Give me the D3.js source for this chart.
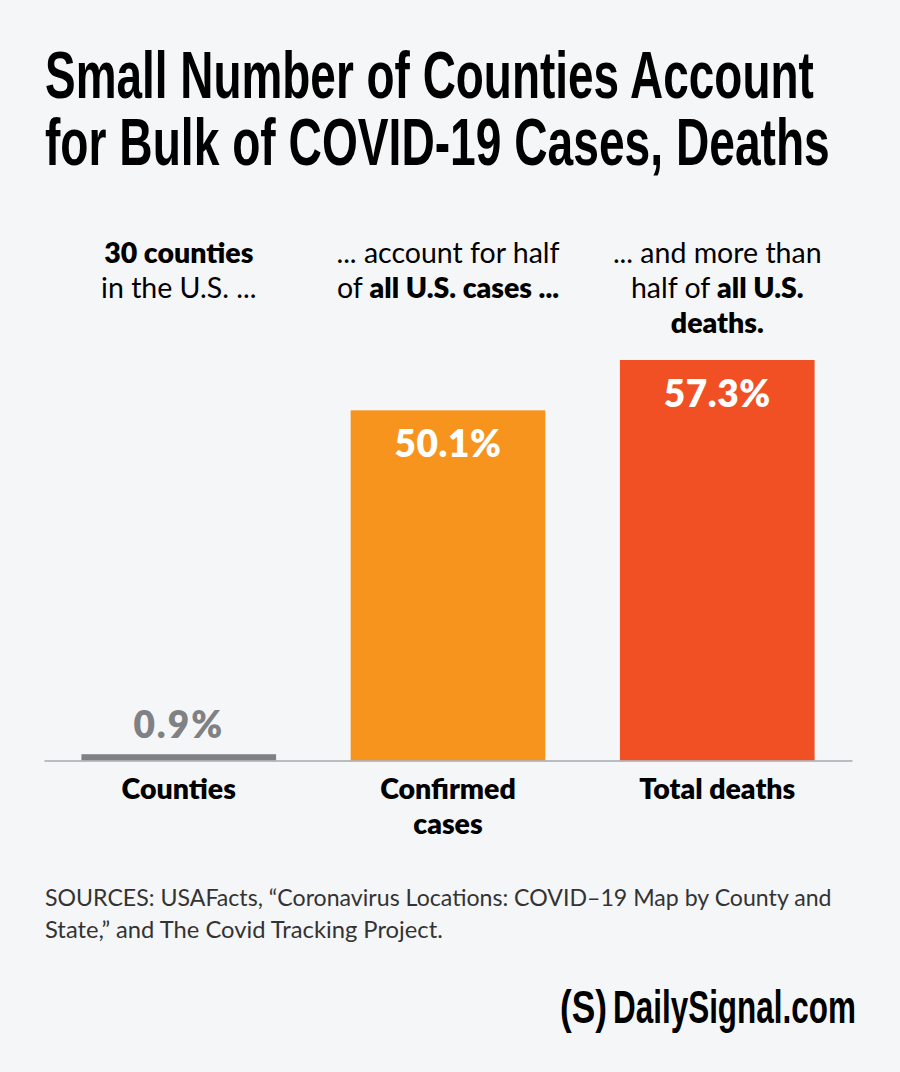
<!DOCTYPE html>
<html lang="en">
<head>
<meta charset="UTF-8">
<title>Small Number of Counties</title>
<script src="https://cdnjs.cloudflare.com/ajax/libs/d3/7.8.5/d3.min.js"></script>
<style>
    html, body { margin: 0; padding: 0; background: #f5f6f8; }
    svg { display: block; }
    text { font-family: Lato, sans-serif; fill: #000; }
    .narrow { font-family: 'Liberation Sans Narrow', 'Liberation Sans', sans-serif; font-weight: 700; }
</style>
</head>
<body>
<div id="chart"></div>
<script>
const titleLines = ["Small Number of Counties Account", "for Bulk of COVID-19 Cases, Deaths"];
const titleWidths = [769, 785];
const categories = ["Counties", "Confirmed cases", "Total deaths"];
const values = [0.9, 50.1, 57.3];
const valueLabels = ["0.9%", "50.1%", "57.3%"];
const colors = ["#808184", "#f7941e", "#f15025"];
const categoryLines = [["Counties"], ["Confirmed", "cases"], ["Total deaths"]];
// each line is a list of [text, bold] runs
const introLines = [
    [[["30 counties", true]], [["in the U.S. ...", false]]],
    [[["... account for half", false]], [["of ", false], ["all U.S. cases ...", true]]],
    [[["... and more than", false]], [["half of ", false], ["all U.S.", true]], [["deaths.", true]]]
];
const sourceLines = [
    "SOURCES: USAFacts, \u201cCoronavirus Locations: COVID\u201319 Map by County and",
    "State,\u201d and The Covid Tracking Project."
];
const sourceWidths = [787, 398];

const width = 900, height = 1072;
const svg = d3.select("#chart").append("svg").attr("width", width).attr("height", height);

// squeeze a text to a given width, keeping its left edge
function fitWidth(sel, w, left, base) {
    const len = sel.node().getComputedTextLength();
    sel.attr("transform", `translate(${left},${base}) scale(${w / len},1)`);
}

// title
titleLines.forEach((line, i) => {
    const t = svg.append("text")
        .attr("class", "narrow")
        .attr("font-size", 66)
        .text(line);
    fitWidth(t, titleWidths[i], 45, 98 + i * 67);
});

const x = d3.scaleBand().domain(categories).range([44, 852]).paddingInner(0.277).paddingOuter(0.139);
const y = d3.scaleLinear().domain([0, 57.3]).range([760.5, 360]);

svg.selectAll(".bar").data(categories).enter().append("rect")
    .attr("class", "bar")
    .attr("x", d => x(d))
    .attr("width", x.bandwidth())
    .attr("y", (d, i) => y(values[i]))
    .attr("height", (d, i) => y(0) - y(values[i]))
    .attr("fill", (d, i) => colors[i]);

// baseline
const axis = svg.append("g").attr("transform", `translate(0,${y(0)})`)
    .call(d3.axisBottom(x).tickSize(0).tickFormat(""));
axis.select(".domain").attr("stroke", "#a7a9ac").attr("stroke-width", 1.5);

// value labels
svg.selectAll(".value").data(categories).enter().append("text")
    .attr("class", "value")
    .attr("x", d => x(d) + x.bandwidth() / 2)
    .attr("y", (d, i) => i === 0 ? y(values[i]) - 16 : y(values[i]) + 47)
    .attr("text-anchor", "middle")
    .attr("font-size", 37)
    .attr("font-weight", 800)
    .attr("letter-spacing", (d, i) => i === 0 ? 2 : 0.6)
    .style("fill", (d, i) => i === 0 ? "#808184" : "#fff")
    .text((d, i) => valueLabels[i]);

// category labels
categories.forEach((c, i) => {
    svg.selectAll(null).data(categoryLines[i]).enter().append("text")
        .attr("x", x(c) + x.bandwidth() / 2)
        .attr("y", (d, j) => 799 + j * 35)
        .attr("text-anchor", "middle")
        .attr("font-size", 28.5)
        .attr("font-weight", 800)
        .text(d => d);
});

// intro text over each bar
categories.forEach((c, i) => {
    introLines[i].forEach((runs, j) => {
        const t = svg.append("text")
            .attr("x", x(c) + x.bandwidth() / 2)
            .attr("y", 263 + j * 35)
            .attr("text-anchor", "middle")
            .attr("font-size", 28.5);
        runs.forEach(r => {
            t.append("tspan").attr("font-weight", r[1] ? 800 : 400).text(r[0]);
        });
    });
});

// sources
sourceLines.forEach((line, i) => {
    const t = svg.append("text")
        .attr("font-size", 24)
        .style("fill", "#333")
        .text(line);
    fitWidth(t, sourceWidths[i], 45, 906 + i * 32);
});

// logo
const logoMark = svg.append("text")
    .attr("class", "narrow")
    .attr("font-size", 47)
    .text("(S)");
fitWidth(logoMark, 47, 560, 1023);
const logoName = svg.append("text")
    .attr("class", "narrow")
    .attr("font-size", 46)
    .text("DailySignal.com");
fitWidth(logoName, 243, 613, 1023);
</script>
</body>
</html>
